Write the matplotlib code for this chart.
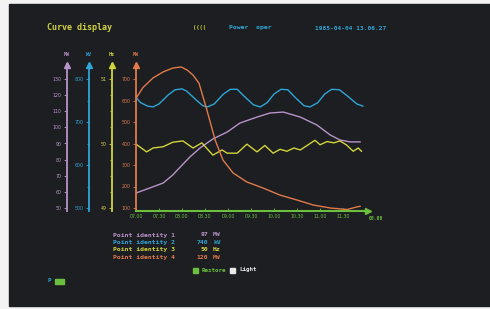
import matplotlib.pyplot as plt
from matplotlib.patches import Rectangle
from matplotlib.lines import Line2D
from matplotlib.ticker import MultipleLocator

W, H = 490, 309

# curve 1 - MW (50..130 scale), lavender
mw1_t = [7.0, 7.30, 7.59, 7.80, 7.96, 8.17, 8.39, 8.67, 8.98, 9.26, 9.63, 9.91,
         10.2, 10.57, 10.93, 11.22, 11.43, 11.65, 11.87]
mw1_v = [59.3, 62.4, 65.5, 70.5, 75.4, 81.6, 87.2, 92.8, 97.1, 102.7, 106.4, 108.9,
         109.5, 106.4, 101.5, 95.3, 92.2, 91.0, 91.0]

# curve 2 - kV, cyan
kv_t = [7.0, 7.1, 7.25, 7.37, 7.5, 7.7, 7.85, 8.0, 8.1, 8.3, 8.45, 8.55, 8.7, 8.9,
        9.05, 9.2, 9.35, 9.55, 9.7, 9.85, 10.0, 10.15, 10.3, 10.45, 10.65, 10.78,
        10.95, 11.1, 11.25, 11.42, 11.6, 11.8, 11.93]
kv_v = [757, 745, 737, 735, 742, 763, 775, 777, 772, 752, 738, 735, 742, 765,
        776, 776, 760, 740, 735, 745, 765, 776, 775, 758, 738, 735,
        745, 765, 776, 775, 760, 742, 737]

# curve 3 - Hz, yellow
hz_t = [7.0, 7.23, 7.37, 7.59, 7.80, 8.02, 8.24, 8.43, 8.67, 8.87, 8.98, 9.20, 9.41,
        9.63, 9.80, 9.98, 10.13, 10.28, 10.43, 10.57, 10.72, 10.89, 11.0, 11.15,
        11.30, 11.43, 11.57, 11.72, 11.83, 11.9]
hz_v = [49.99, 49.87, 49.93, 49.95, 50.02, 50.04, 49.93, 50.01, 49.82, 49.90, 49.85,
        49.85, 49.99, 49.87, 49.97, 49.85, 49.91, 49.88, 49.93, 49.90, 49.97, 50.05,
        49.98, 50.03, 50.01, 50.04, 49.98, 49.88, 49.93, 49.88]

# curve 4 - MW (100..700 scale), orange
mw4_t = [7.0, 7.15, 7.37, 7.59, 7.80, 7.98, 8.11, 8.24, 8.37, 8.54, 8.72, 8.89,
         9.11, 9.41, 9.76, 10.13, 10.50, 10.85, 11.22, 11.59, 11.80, 11.87]
mw4_v = [610, 660, 705, 733, 751, 756, 742, 718, 680, 556, 416, 323,
         263, 221, 193, 160, 137, 114, 100, 93, 105, 108]

time_ticks = [7.0, 7.5, 8.0, 8.5, 9.0, 9.5, 10.0, 10.5, 11.0, 11.5]
time_labels = ["07.00", "07.30", "08.00", "08.30", "09.00", "09.30",
               "10.00", "10.30", "11.00", "11.30"]

point_names = ["Point identity 1", "Point identity 2", "Point identity 3", "Point identity 4"]
point_values = ["97", "740", "50", "120"]
point_units = ["MW", "kV", "Hz", "MW"]

LAV = '#b894c8'
CYAN = '#2fa6d6'
YEL = '#d2d43c'
ORG = '#e07a4a'
GRN = '#6cbf3e'
BG = '#1c1e22'

fig = plt.figure(figsize=(W / 100, H / 100), dpi=100, facecolor='#f3f3f3')
fig.patches.append(Rectangle((9 / W, 1 - 306 / H), 481 / W, 302 / H,
                             transform=fig.transFigure, color=BG, zorder=-10))

mono = dict(family='DejaVu Sans Mono', fontweight='bold')


def fx(x):
    return x / W


def fy(y):
    return 1 - y / H


pos = [136 / W, 1 - 211 / H, (367 - 136) / W, (211 - 64) / H]

# (lo, hi, offset px, color, unit, major, minor, data)
scales = [
    (50, 130, 69, LAV, "MW", 10, None, mw1_t, mw1_v),
    (500, 800, 47, CYAN, "kV", 100, 50, kv_t, kv_v),
    (49, 51, 24, YEL, "Hz", 1, 0.25, hz_t, hz_v),
    (100, 700, 0, ORG, "MW", 100, None, mw4_t, mw4_v),
]

for lo, hi, off, col, unit, major, minor, t, v in scales:
    ax = fig.add_axes(pos, facecolor='none')
    pp = (hi - lo) / 129.0
    ax.set_ylim(lo - 3 * pp, hi + 15 * pp)
    ax.set_xlim(7.0, 12.02)
    for s in ['top', 'right', 'bottom']:
        ax.spines[s].set_visible(False)
    ax.spines['left'].set_position(('outward', off * 0.72))
    ax.spines['left'].set_color(col)
    ax.spines['left'].set_linewidth(1.3)
    ax.set_yticks([lo + i * major for i in range(int(round((hi - lo) / major)) + 1)])
    if minor:
        ax.yaxis.set_minor_locator(MultipleLocator(minor))
        ax.tick_params(axis='y', which='minor', length=1.5, width=0.6, color=col)
    ax.tick_params(axis='y', colors=col, labelsize=3.4, length=2, width=0.6, pad=2)
    ax.set_xticks([])
    ax.plot(t, v, color=col, lw=1.0)
    xs = 136 - off
    fig.add_artist(Line2D([fx(xs)], [fy(65)], marker='^', markersize=4,
                          color=col, transform=fig.transFigure))
    fig.text(fx(xs), fy(55), unit, color=col, fontsize=3.6, ha='center', va='center', **mono)
    last_ax = ax

# x axis on the orange axes
ax = last_ax
ax.spines['bottom'].set_visible(True)
ax.spines['bottom'].set_color(GRN)
ax.spines['bottom'].set_linewidth(1.5)
ax.set_xticks(time_ticks)
ax.set_xticklabels(time_labels)
ax.tick_params(axis='x', colors=GRN, labelsize=3.4, length=2, width=0.6,
               direction='in', pad=2)
fig.add_artist(Line2D([fx(368)], [fy(211)], marker='>', markersize=5,
                      color=GRN, transform=fig.transFigure))
fig.text(fx(376), fy(219), "00.00", color=GRN, fontsize=3.4, ha='center', va='center', **mono)

# header
fig.text(fx(47), fy(28), "Curve display", color=YEL, fontsize=6, ha='left', va='center', **mono)
fig.text(fx(193), fy(28), "((((", color=YEL, fontsize=4, ha='left', va='center', **mono)
fig.text(fx(229), fy(28), "Power  oper", color=CYAN, fontsize=4.6, ha='left', va='center', **mono)
fig.text(fx(315), fy(28), "1985-04-04 13.06.27", color=CYAN, fontsize=4.4, ha='left', va='center', **mono)

# point identities
row_cols = [LAV, CYAN, YEL, ORG]
for i, (n, val, u) in enumerate(zip(point_names, point_values, point_units)):
    y = fy(235 + i * 7.4)
    fig.text(fx(113), y, n, color=row_cols[i], fontsize=4.6, ha='left', va='center', **mono)
    fig.text(fx(208), y, val, color=row_cols[i], fontsize=4.6, ha='right', va='center', **mono)
    fig.text(fx(213), y, u, color=row_cols[i], fontsize=4.6, ha='left', va='center', **mono)

fig.patches.append(Rectangle((fx(193), fy(273)), 5 / W, 5 / H, transform=fig.transFigure, color=GRN))
fig.text(fx(202), fy(270), "Restore", color=GRN, fontsize=4.2, ha='left', va='center', **mono)
fig.patches.append(Rectangle((fx(230), fy(273)), 5 / W, 5 / H, transform=fig.transFigure, color='#e8e8e8'))
fig.text(fx(239), fy(270), "Light", color='#e8e8e8', fontsize=4.2, ha='left', va='center', **mono)

fig.text(fx(47), fy(281), "P", color=CYAN, fontsize=4.2, ha='left', va='center', **mono)
fig.patches.append(Rectangle((fx(55), fy(284)), 9 / W, 5 / H, transform=fig.transFigure, color=GRN))

fig.savefig("out.png", dpi=100, facecolor=fig.get_facecolor())
